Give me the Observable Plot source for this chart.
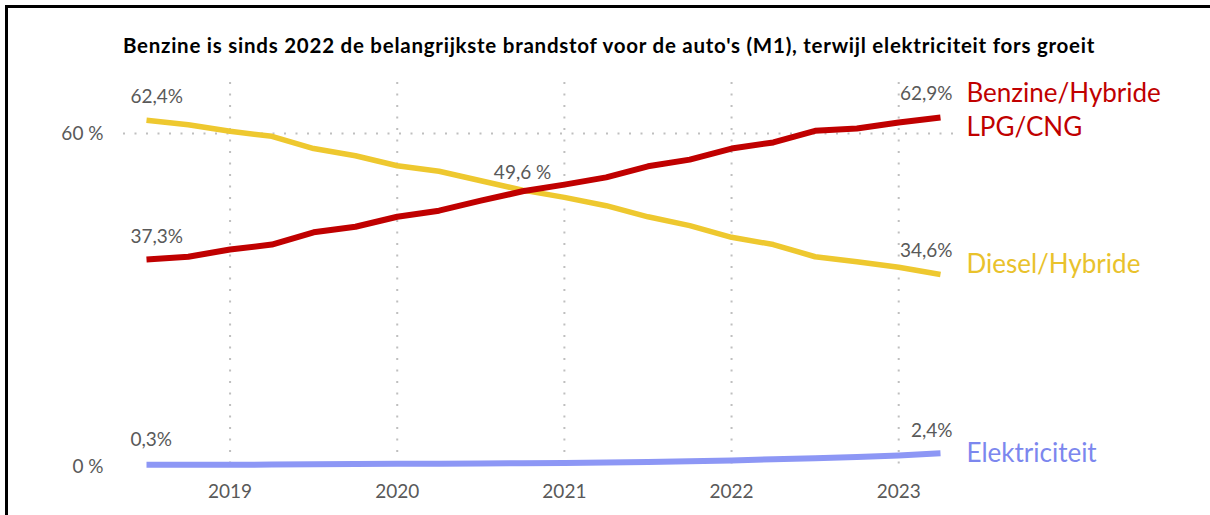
<!DOCTYPE html>
<html><head><meta charset="utf-8">
<script src="https://cdn.jsdelivr.net/npm/d3@7"></script>
<script src="https://cdn.jsdelivr.net/npm/@observablehq/plot@0.6"></script>
<style>
html,body{margin:0;padding:0;background:#fff;overflow:hidden;}
#wrap{position:relative;width:1210px;height:515px;overflow:hidden;font-family:Lato,"Open Sans",sans-serif;background:#fff;}
#hbar{position:absolute;left:5px;top:5px;width:1205px;height:3px;background:#000;}
#vbar{position:absolute;left:5px;top:5px;width:3px;height:510px;background:#000;}
#title{position:absolute;top:33px;left:0;width:1218px;text-align:center;font-weight:bold;font-size:20.5px;letter-spacing:0.75px;color:#000;white-space:nowrap;}
#chart{position:absolute;left:0;top:0;}
</style>
</head><body>
<div id="wrap"><div id="chart"></div><div id="title">Benzine is sinds 2022 de belangrijkste brandstof voor de auto's (M1), terwijl elektriciteit fors groeit</div><div id="hbar"></div><div id="vbar"></div></div>
<script>
const quarters = ["2018-Q3","2018-Q4","2019-Q1","2019-Q2","2019-Q3","2019-Q4","2020-Q1","2020-Q2","2020-Q3","2020-Q4","2021-Q1","2021-Q2","2021-Q3","2021-Q4","2022-Q1","2022-Q2","2022-Q3","2022-Q4","2023-Q1","2023-Q2"];
const benzine = [37.3,37.8,39.1,40.0,42.2,43.2,45.0,46.1,47.9,49.6,50.8,52.1,54.1,55.3,57.3,58.4,60.5,60.9,62.0,62.9];
const diesel  = [62.4,61.6,60.4,59.5,57.3,56.0,54.2,53.2,51.5,49.8,48.5,47.0,45.0,43.4,41.3,40.0,37.8,36.9,35.9,34.6];
const elektro = [0.3,0.3,0.3,0.35,0.4,0.45,0.5,0.5,0.55,0.6,0.65,0.7,0.8,0.95,1.1,1.3,1.5,1.7,2.0,2.4];
const yearTicks = [2019,2020,2021,2022,2023];
const yTicks = [0,60];
const yTickLabels = ["0 %","60 %"];
const seriesNames = ["Benzine/Hybride\nLPG/CNG","Diesel/Hybride","Elektriciteit"];
const seriesColors = ["#C00000","#EEC82F","#8D97F5"];
const labelColors = ["#C00000","#E9C22C","#7C87EE"];
// value annotations: [series index, quarter index, text]
const annotations = [
  [1,0,"62,4%"],[0,0,"37,3%"],[2,0,"0,3%"],
  [0,19,"62,9%"],[1,19,"34,6%"],[2,19,"2,4%"],
  [0,9,"49,6 %"]
];

const qx = q => { const [y,k] = q.split("-Q"); return +y + (+k - 1)/4; };
const seriesVals = [benzine, diesel, elektro];
const data = [];
seriesVals.forEach((vals,s) => vals.forEach((v,i) => data.push({s, x: qx(quarters[i]), v})));
const ann = annotations.map(([s,i,t]) => ({s, i, t, x: qx(quarters[i]), v: seriesVals[s][i]}));
const lastI = quarters.length - 1;
const ends = seriesVals.map((vals,s) => ({s, x: qx(quarters[lastI]), v: vals[vals.length-1], name: seriesNames[s]}));
const endDy = [-9,-12,-2];
const valStyle = {x: "x", y: "v", text: "t", fontSize: 19, fill: "#595959"};

const chart = Plot.plot({
  width: 1210, height: 515,
  marginLeft: 146, marginRight: 270, marginTop: 82, marginBottom: 45,
  style: {fontFamily: "Lato, 'Open Sans', sans-serif", background: "transparent", overflow: "visible"},
  x: {domain: [2018.5, 2023.25]},
  y: {domain: [-0.72, 69.2]},
  marks: [
    Plot.ruleX(yearTicks, {stroke: "#BFBFBF", strokeWidth: 2, strokeDasharray: "2,9.5"}),
    Plot.ruleY([60], {stroke: "#BFBFBF", strokeWidth: 2, strokeDasharray: "2,9.5", insetLeft: -23, insetRight: -13}),
    Plot.axisX({ticks: yearTicks, tickFormat: d => String(d), tickSize: 0, tickPadding: 14, fontSize: 19, color: "#595959", label: null}),
    Plot.axisY({ticks: yTicks, tickFormat: d => yTickLabels[yTicks.indexOf(d)], tickSize: 0, tickPadding: 43, fontSize: 19, color: "#595959", label: null}),
    Plot.line(data.filter(d => d.s === 2), {x: "x", y: "v", stroke: seriesColors[2], strokeWidth: 6, strokeLinecap: "butt", strokeLinejoin: "round"}),
    Plot.line(data.filter(d => d.s === 1), {x: "x", y: "v", stroke: seriesColors[1], strokeWidth: 5.5, strokeLinecap: "butt", strokeLinejoin: "round"}),
    Plot.line(data.filter(d => d.s === 0), {x: "x", y: "v", stroke: seriesColors[0], strokeWidth: 6, strokeLinecap: "butt", strokeLinejoin: "round"}),
    Plot.text(ann.filter(d => d.i === 0 && d.s !== 2), {...valStyle, textAnchor: "start", dx: -16, dy: -23}),
    Plot.text(ann.filter(d => d.i === 0 && d.s === 2), {...valStyle, textAnchor: "start", dx: -16, dy: -25}),
    Plot.text(ann.filter(d => d.i === lastI && d.s !== 2), {...valStyle, textAnchor: "end", dx: 12, dy: -24}),
    Plot.text(ann.filter(d => d.i === lastI && d.s === 2), {...valStyle, textAnchor: "end", dx: 12, dy: -22}),
    Plot.text(ann.filter(d => d.i !== 0 && d.i !== lastI), {...valStyle, textAnchor: "middle", dy: -18}),
    ...ends.map(e => Plot.text([e], {x: "x", y: "v", text: "name", textAnchor: "start", dx: 26, dy: endDy[e.s], fontSize: 26, lineHeight: 1.31, fill: labelColors[e.s]}))
  ]
});
document.getElementById("chart").appendChild(chart);
</script>
</body></html>
